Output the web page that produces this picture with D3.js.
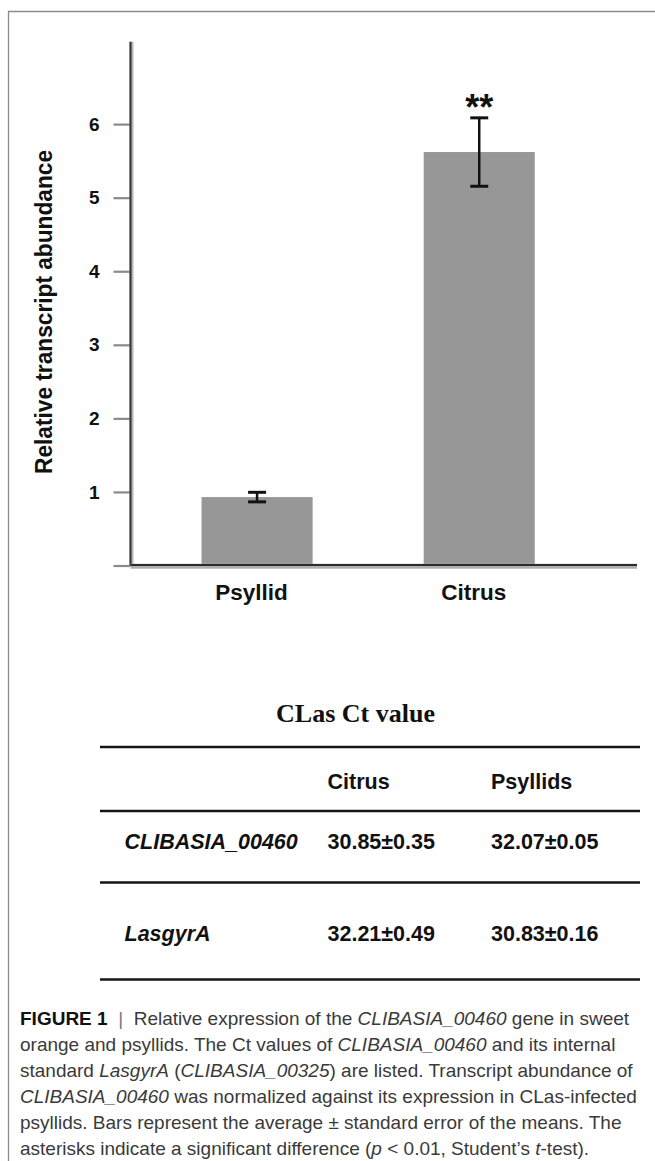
<!DOCTYPE html>
<html>
<head>
<meta charset="utf-8">
<script src="https://cdn.jsdelivr.net/npm/d3@7"></script>
<style>
  html, body { margin: 0; padding: 0; background: #fff; }
  svg { display: block; font-family: "Liberation Sans", Arial, sans-serif; }
  .axis text { font-family: "Liberation Sans", Arial, sans-serif; font-weight: bold; font-size: 19px; fill: #111; }
  .x-axis text { font-size: 22.5px; }
  .cell { font-size: 21.5px; font-weight: bold; fill: #111; }
  .caption { font-size: 19px; fill: #3a3a3a; white-space: pre; }
</style>
</head>
<body>
<svg id="fig" width="655" height="1161"></svg>
<script>
/* ---------- data ---------- */
const groups = ["Psyllid", "Citrus"];
const meanAbundance = [0.93, 5.62];
const stdErr = [0.065, 0.465];
const sigMarks = ["", "**"];
const yTickValues = [0, 1, 2, 3, 4, 5, 6];
const Y_TOP = 7.12;
const yLabel = "Relative transcript abundance";

const tableTitle = "CLas Ct value";
const tableCols = ["Citrus", "Psyllids"];
const tableGenes = ["CLIBASIA_00460", "LasgyrA"];
const ctCitrus = ["30.85±0.35", "32.21±0.49"];
const ctPsyllids = ["32.07±0.05", "30.83±0.16"];

// caption: each line is a list of [text, style] pieces
const captionLines = [
  [["FIGURE 1", "b"], ["  |  ", "bar"], ["Relative expression of the ", ""], ["CLIBASIA_00460", "i"], [" gene in sweet", ""]],
  [["orange and psyllids. The Ct values of ", ""], ["CLIBASIA_00460", "i"], [" and its internal", ""]],
  [["standard ", ""], ["LasgyrA", "i"], [" (", ""], ["CLIBASIA_00325", "i"], [") are listed. Transcript abundance of", ""]],
  [["CLIBASIA_00460", "i"], [" was normalized against its expression in CLas-infected", ""]],
  [["psyllids. Bars represent the average ± standard error of the means. The", ""]],
  [["asterisks indicate a significant difference (", ""], ["p", "i"], [" < 0.01, Student\u2019s ", ""], ["t", "i"], ["-test).", ""]]
];

/* ---------- layout ---------- */
const svg = d3.select("#fig");
const plotLeft = 130.5, plotRight = 637, plotBottom = 565.5, plotTop = 41.7;

const yScale = d3.scaleLinear().domain([0, Y_TOP]).range([plotBottom, plotTop]);
const xScale = d3.scaleBand().domain(groups).range([plotLeft, plotRight])
  .paddingInner(0.5).paddingOuter(0.39).align(0.41);

// outer frame (only top and left edges are visible)
svg.append("path")
  .attr("d", "M8.5,1161V11.5H655")
  .attr("fill", "none")
  .attr("stroke", "#8c8c8c")
  .attr("stroke-width", 1.3);

/* ---------- y axis ---------- */
const yAxis = d3.axisLeft(yScale).tickValues(yTickValues).tickSize(17).tickPadding(14)
  .tickFormat(d => d === 0 ? "" : d);

const yAxisG = svg.append("g").attr("class", "axis y-axis")
  .attr("transform", `translate(${plotLeft},0)`).call(yAxis);
yAxisG.select(".domain").remove();
yAxisG.selectAll(".tick line").attr("stroke", "#8a8a8a").attr("stroke-width", 2.2);

svg.append("line")
  .attr("x1", plotLeft + 1).attr("x2", plotLeft + 1)
  .attr("y1", yScale(Y_TOP)).attr("y2", yScale(0))
  .attr("stroke", "#b5b5b5").attr("stroke-width", 4);
svg.append("line")
  .attr("x1", plotLeft).attr("x2", plotLeft)
  .attr("y1", yScale(Y_TOP)).attr("y2", yScale(0))
  .attr("stroke", "#333").attr("stroke-width", 2);

svg.append("text")
  .attr("transform", "rotate(-90)")
  .attr("x", -312).attr("y", 51.5)
  .attr("text-anchor", "middle")
  .attr("font-weight", "bold").attr("font-size", 24).attr("fill", "#111")
  .attr("textLength", 324).attr("lengthAdjust", "spacingAndGlyphs")
  .text(yLabel);

/* ---------- bars ---------- */
svg.append("g").selectAll("rect")
  .data(groups)
  .join("rect")
  .attr("x", d => xScale(d))
  .attr("y", (d, i) => yScale(meanAbundance[i]))
  .attr("width", xScale.bandwidth())
  .attr("height", (d, i) => yScale(0) - yScale(meanAbundance[i]))
  .attr("fill", "#979797");

/* ---------- x axis ---------- */
svg.append("line")
  .attr("x1", plotLeft).attr("x2", plotRight)
  .attr("y1", plotBottom + 0.8).attr("y2", plotBottom + 0.8)
  .attr("stroke", "#b0b0b0").attr("stroke-width", 5);
svg.append("line")
  .attr("x1", plotLeft).attr("x2", plotRight)
  .attr("y1", plotBottom - 0.5).attr("y2", plotBottom - 0.5)
  .attr("stroke", "#2b2b2b").attr("stroke-width", 2.2);

const xAxis = d3.axisBottom(xScale).tickSize(0).tickPadding(19);
const xAxisG = svg.append("g").attr("class", "axis x-axis")
  .attr("transform", `translate(0,${plotBottom})`).call(xAxis);
xAxisG.select(".domain").remove();
xAxisG.selectAll(".tick text").attr("dx", -5.5);

/* ---------- error bars + significance ---------- */
const capHalf = 9;
const errG = svg.append("g").attr("stroke", "#111");
groups.forEach((grp, i) => {
  const cx = xScale(grp) + xScale.bandwidth() / 2;
  const hi = yScale(meanAbundance[i] + stdErr[i]);
  const lo = yScale(meanAbundance[i] - stdErr[i]);
  errG.append("line").attr("x1", cx).attr("x2", cx).attr("y1", hi).attr("y2", lo)
    .attr("stroke-width", 2.5);
  errG.append("line").attr("x1", cx - capHalf).attr("x2", cx + capHalf).attr("y1", hi).attr("y2", hi)
    .attr("stroke-width", 3);
  errG.append("line").attr("x1", cx - capHalf).attr("x2", cx + capHalf).attr("y1", lo).attr("y2", lo)
    .attr("stroke-width", 3);
  if (sigMarks[i]) {
    svg.append("text")
      .attr("x", cx).attr("y", hi + 2)
      .attr("text-anchor", "middle")
      .attr("font-weight", "bold").attr("font-size", 36).attr("fill", "#111")
      .text(sigMarks[i]);
  }
});

/* ---------- Ct value table ---------- */
const tableLeft = 100, tableRight = 640;
const ruleY = [747, 811, 882.5, 979.5];
const colX = d3.scaleOrdinal().domain(["gene"].concat(tableCols)).range([124.5, 327.5, 491]);
const rowY = d3.scaleOrdinal().domain(["head"].concat(tableGenes)).range([788.5, 848.5, 941]);

svg.append("text")
  .attr("x", 355.5).attr("y", 722)
  .attr("text-anchor", "middle")
  .attr("font-family", "'Liberation Serif', 'Times New Roman', serif")
  .attr("font-weight", "bold").attr("font-size", 26).attr("fill", "#111")
  .text(tableTitle);

svg.append("g").selectAll("line")
  .data(ruleY)
  .join("line")
  .attr("x1", tableLeft).attr("x2", tableRight)
  .attr("y1", d => d).attr("y2", d => d)
  .attr("stroke", "#151515").attr("stroke-width", 2.3);

const tableG = svg.append("g");
tableG.selectAll("text.head")
  .data(tableCols)
  .join("text")
  .attr("class", "cell head")
  .attr("x", d => colX(d)).attr("y", rowY("head"))
  .text(d => d);

tableGenes.forEach((gene, r) => {
  tableG.append("text").attr("class", "cell")
    .attr("x", colX("gene")).attr("y", rowY(gene))
    .attr("font-style", "italic")
    .text(gene);
  tableG.append("text").attr("class", "cell")
    .attr("x", colX("Citrus")).attr("y", rowY(gene))
    .text(ctCitrus[r]);
  tableG.append("text").attr("class", "cell")
    .attr("x", colX("Psyllids")).attr("y", rowY(gene))
    .text(ctPsyllids[r]);
});

/* ---------- caption ---------- */
const capG = svg.append("g");
captionLines.forEach((pieces, li) => {
  const t = capG.append("text")
    .attr("class", "caption")
    .attr("x", 20).attr("y", 1025 + li * 26);
  pieces.forEach(([txt, st]) => {
    const span = t.append("tspan").text(txt);
    if (st === "i") span.attr("font-style", "italic");
    if (st === "b") span.attr("font-weight", "bold").attr("fill", "#111");
    if (st === "bar") span.attr("fill", "#777");
  });
});
</script>
</body>
</html>
